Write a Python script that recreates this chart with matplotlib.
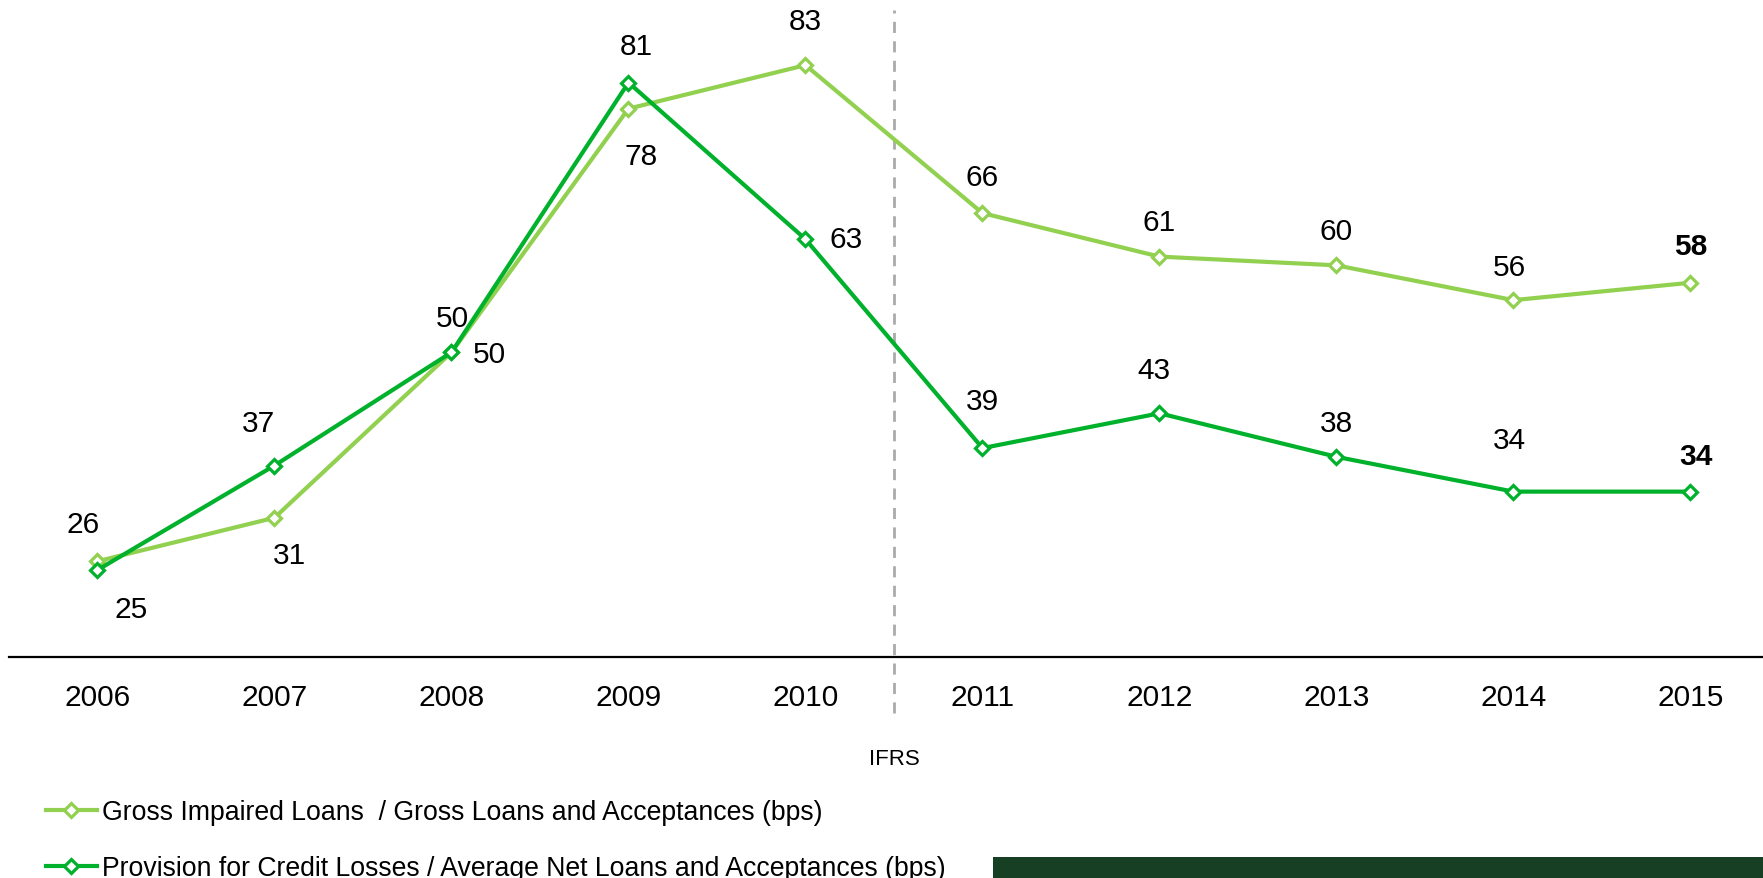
import matplotlib
matplotlib.use("Agg")
import matplotlib.pyplot as plt
from matplotlib.patches import Rectangle

plt.rcParams['font.family'] = ['Liberation Sans', 'DejaVu Sans']

years = [2006, 2007, 2008, 2009, 2010, 2011, 2012, 2013, 2014, 2015]
gross_impaired = [26, 31, 50, 78, 83, 66, 61, 60, 56, 58]
provision = [25, 37, 50, 81, 63, 39, 43, 38, 34, 34]
gross_label = "Gross Impaired Loans  / Gross Loans and Acceptances (bps)"
prov_label = "Provision for Credit Losses / Average Net Loans and Acceptances (bps)"
ifrs_x = 2010.5

# label offsets in points (style)
gross_off = [(-10, 27), (11, -27), (1, 25), (9, -34), (0, 32), (0, 26), (0, 25), (0, 25), (-3, 24), (0, 26.5)]
prov_off = [(24, -28), (-11.6, 30.7), (27, -1), (6, 26), (29, 0), (0, 34), (-4, 31), (0, 24), (-3, 37), (4, 26)]

W, H = 1763, 879
fig = plt.figure(figsize=(W / 100, H / 100), dpi=100)
ax = fig.add_axes([9 / W, 1 - 658 / H, 1 - 9 / W, 658 / H])

c_gross = '#92d050'
c_prov = '#00b12c'

l1, = ax.plot(years, gross_impaired, color=c_gross, lw=3.0, marker='D', ms=7.5,
              mfc='white', mec=c_gross, mew=2.3, zorder=3, label=gross_label)
l2, = ax.plot(years, provision, color=c_prov, lw=3.0, marker='D', ms=7.5,
              mfc='white', mec=c_prov, mew=2.3, zorder=4, label=prov_label)

for i, (x, v) in enumerate(zip(years, gross_impaired)):
    bold = i == len(years) - 1
    ax.annotate(str(v), (x, v), xytext=gross_off[i], textcoords='offset points',
                ha='center', va='center', fontsize=21.5,
                fontweight='bold' if bold else 'normal', color='black')
for i, (x, v) in enumerate(zip(years, provision)):
    bold = i == len(years) - 1
    ax.annotate(str(v), (x, v), xytext=prov_off[i], textcoords='offset points',
                ha='center', va='center', fontsize=21.5,
                fontweight='bold' if bold else 'normal', color='black')

ax.set_xlim(2005.50, 2015.41)
ax.set_ylim(15, 90.6)
ax.axvline(ifrs_x, ymin=-0.085, ymax=0.983, color='#aaaaaa', lw=2, ls=(0, (4, 3)),
           clip_on=False, zorder=1)
ax.text(ifrs_x, -0.154, "IFRS", transform=ax.get_xaxis_transform(), ha='center',
        va='center', fontsize=16)

for s in ['top', 'right', 'left']:
    ax.spines[s].set_visible(False)
ax.spines['bottom'].set_linewidth(1.6)
ax.spines['bottom'].set_color('black')
ax.set_yticks([])
ax.set_xticks(years)
ax.set_xticklabels([str(y) for y in years], fontsize=21.5)
ax.tick_params(axis='x', length=0, pad=19)

leg = fig.legend(handles=[l1, l2], loc='upper left', bbox_to_anchor=(46 / W, 1 - 800 / H),
                 frameon=False, fontsize=19.2, handlelength=1.9, handletextpad=0.2,
                 labelspacing=1.13, numpoints=1, borderaxespad=0, borderpad=0)

fig.patches.append(Rectangle((993 / W, 0), (W - 993) / W, 21 / H, transform=fig.transFigure,
                             facecolor='#173f24', edgecolor='none'))

fig.savefig('out.png', dpi=100)
